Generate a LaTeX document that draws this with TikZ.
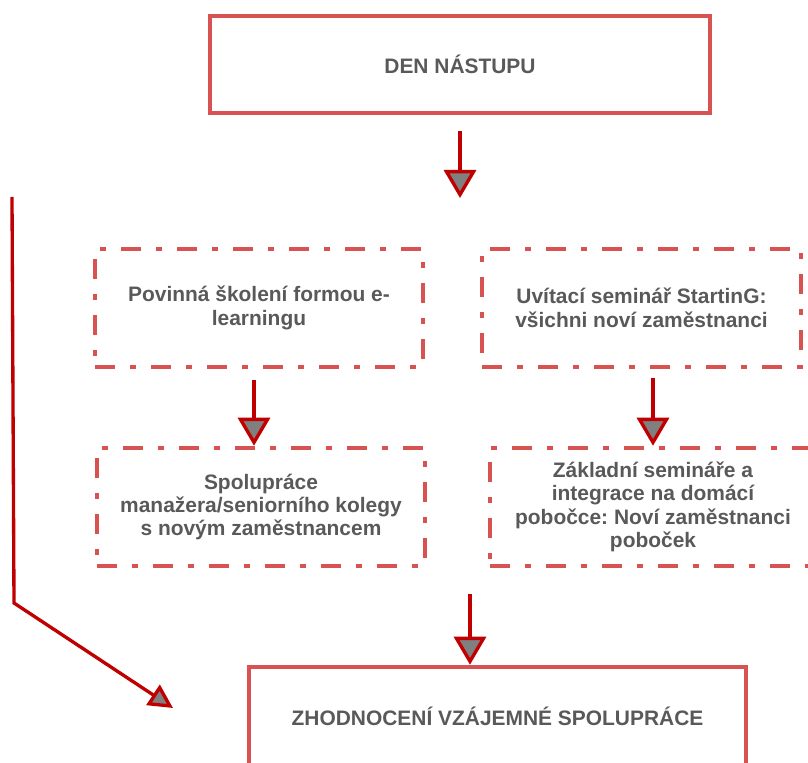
\documentclass[tikz,border=0pt]{standalone}
\usepackage{fontspec}
\setmainfont{Liberation Sans}
\usetikzlibrary{arrows.meta}
\frenchspacing

\definecolor{boxred}{RGB}{217,82,82}
\definecolor{arrowred}{RGB}{192,0,0}
\definecolor{tipgray}{RGB}{128,128,128}
\definecolor{txtgray}{RGB}{89,89,89}

\tikzset{every picture/.style={line width=0.75pt}}
\tikzset{
  solidbox/.style={draw=boxred, line width=3.4pt, text=txtgray, align=center,
    font=\bfseries\fontsize{15.7}{17.6}\selectfont, inner sep=0pt},
  dashbox/.style={solidbox, dash pattern=on 15pt off 11.5pt on 4pt off 11.5pt},
  flowarrow/.style={draw=arrowred, line width=2.5pt,
    -{Triangle[width=24pt,length=21pt,fill=tipgray]}},
  sidearrow/.style={flowarrow, -{Triangle[width=18pt,length=18pt,fill=tipgray]}}
}

\begin{document}
\begin{tikzpicture}[x=0.75pt,y=0.75pt,yscale=-1,xscale=1]
\useasboundingbox (0,0) rectangle (808,763);
\clip (0,0) rectangle (808,763);

%Shape: Rectangle [id:start]
\node [solidbox, minimum width=375pt, minimum height=72.75pt] (start) at (460,64.5) {DEN NÁSTUPU};
%Shape: Rectangle [id:elearn]
\node [dashbox, minimum width=246pt, minimum height=88.5pt] (elearn) at (259,308) {Povinná školení formou e-\\learningu};
%Shape: Rectangle [id:seminar]
\node [dashbox, minimum width=239.25pt, minimum height=88.5pt] (seminar) at (641.5,308) {Uvítací seminář StartinG:\\všichni noví zaměstnanci};
%Shape: Rectangle [id:mentor]
\node [dashbox, minimum width=246pt, minimum height=88.5pt] (mentor) at (261,507) {Spolupráce\\manažera/seniorního kolegy\\s novým zaměstnancem};
%Shape: Rectangle [id:branch]
\node [dashbox, minimum width=244.5pt, minimum height=88.5pt] (branch) at (653,507) {Základní semináře a\\integrace na domácí\\pobočce: Noví zaměstnanci\\poboček};
%Shape: Rectangle [id:review]
\node [solidbox, minimum width=372.75pt, minimum height=73.5pt] (review) at (497.5,716) {ZHODNOCENÍ VZÁJEMNÉ SPOLUPRÁCE};

%Straight Lines [id:arr-start]
\coordinate (s0) at (460,131);
\coordinate (e0) at (460,198);
\draw [flowarrow] (s0) -- (e0);
%Straight Lines [id:arr-elearn]
\coordinate (s1) at (254,380);
\draw [flowarrow] (s1) -- (s1 |- mentor.north);
%Straight Lines [id:arr-seminar]
\coordinate (s2) at (653,378);
\draw [flowarrow] (s2) -- (s2 |- branch.north);
%Straight Lines [id:arr-review]
\coordinate (s3) at (470,594);
\draw [flowarrow] (s3) -- (s3 |- review.north);

%Straight Lines [id:arr-side]
\coordinate (sideTop) at (12,197);
\coordinate (sideBot) at (14,603);
\coordinate (sideEnd) at (173,708);
\draw [sidearrow] (sideTop) -- (sideBot) -- (sideEnd);

\end{tikzpicture}
\end{document}
